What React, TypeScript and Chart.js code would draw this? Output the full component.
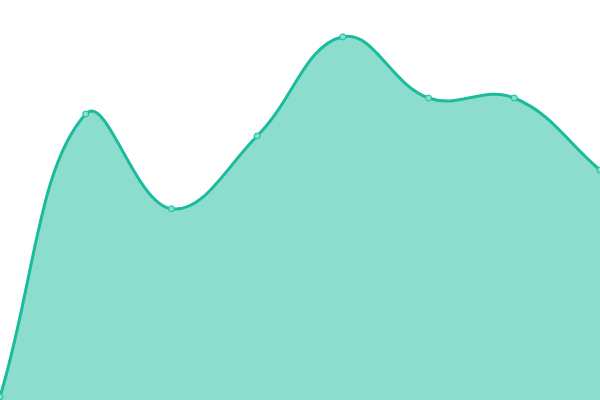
import React, { useEffect, useRef } from 'react';
import Chart from 'chart.js/auto';

const labels = ['1', '2', '3', '4', '5', '6', '7', '8'];
const values = [0.8, 71.5, 47.8, 66, 90.8, 75.5, 75.5, 57.5];

const App: React.FC = () => {
  const chartRef = useRef<HTMLCanvasElement | null>(null);
  const chartInstance = useRef<Chart | null>(null);

  useEffect(() => {
    document.body.style.margin = '0';
    if (chartRef.current) {
      if (chartInstance.current) {
        chartInstance.current.destroy();
      }
      chartInstance.current = new Chart(chartRef.current, {
        type: 'line',
        data: {
          labels,
          datasets: [
            {
              data: values,
              fill: true,
              backgroundColor: 'rgba(26, 188, 156, 0.5)',
              borderColor: '#1abc9c',
              borderWidth: 3,
              tension: 0.4,
              pointRadius: 3,
              pointBorderWidth: 1,
              pointBackgroundColor: '#7fe0cb',
              pointBorderColor: '#1abc9c',
            },
          ],
        },
        options: {
          responsive: false,
          animation: false,
          layout: { padding: 0, autoPadding: false },
          plugins: {
            legend: { display: false },
            tooltip: { enabled: false },
          },
          scales: {
            x: { display: false },
            y: { display: false, min: 0, max: 100 },
          },
        },
      });
    }
    return () => {
      if (chartInstance.current) {
        chartInstance.current.destroy();
        chartInstance.current = null;
      }
    };
  }, []);

  return <canvas ref={chartRef} width={600} height={400} style={{ display: 'block' }}></canvas>;
};

export default App;
